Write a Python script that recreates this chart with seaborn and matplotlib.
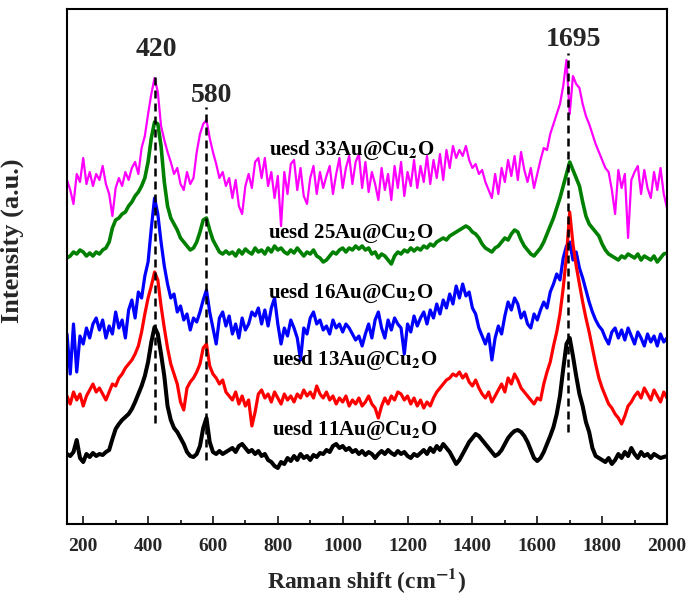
import numpy as np
import pandas as pd
import matplotlib
matplotlib.use("Agg")
import matplotlib.pyplot as plt
import seaborn as sns

# Raman shift grid (cm^-1), 150..2000 every 10
raman_shift = list(range(150, 2001, 10))

# Intensities (a.u.)
s11 = [70, 68, 72, 84, 66, 62, 70, 67, 71, 68,
       70, 69, 72, 74, 85, 95, 100, 104, 107, 110,
       115, 122, 130, 138, 148, 162, 182, 197, 190, 170,
       148, 118, 104, 96, 92, 86, 80, 72, 68, 67,
       70, 78, 96, 106, 82, 72, 70, 73, 70, 72,
       74, 76, 72, 78, 80, 76, 72, 74, 70, 73,
       68, 70, 64, 62, 58, 56, 62, 60, 66, 63,
       68, 64, 70, 66, 68, 64, 69, 67, 71, 70,
       74, 72, 78, 80, 76, 78, 74, 76, 72, 74,
       70, 73, 69, 72, 70, 66, 70, 73, 70, 74,
       71, 69, 73, 70, 72, 68, 66, 70, 68, 71,
       74, 70, 76, 72, 78, 74, 80, 76, 72, 66,
       60, 64, 70, 76, 82, 86, 90, 88, 84, 80,
       76, 72, 68, 70, 74, 80, 86, 90, 93, 94,
       92, 88, 82, 74, 66, 63, 66, 72, 80, 88,
       97, 110, 128, 155, 180, 186, 168, 148, 130, 118,
       102, 92, 76, 68, 66, 64, 62, 66, 60, 64,
       70, 66, 72, 68, 76, 70, 66, 72, 68, 70,
       66, 70, 68, 66, 67, 68]

s13 = [128, 120, 132, 124, 130, 118, 128, 134, 140, 132,
       136, 130, 124, 132, 140, 138, 146, 150, 156, 160,
       164, 170, 178, 192, 210, 226, 238, 252, 244, 218,
       196, 176, 160, 150, 140, 122, 114, 136, 142, 146,
       152, 160, 176, 180, 158, 150, 146, 140, 144, 132,
       128, 124, 132, 120, 128, 118, 124, 98, 112, 130,
       134, 126, 130, 122, 132, 126, 120, 130, 124, 128,
       122, 130, 126, 134, 128, 132, 126, 138, 130, 126,
       132, 124, 128, 120, 126, 122, 128, 118, 124, 120,
       126, 118, 122, 128, 120, 116, 106, 118, 126, 120,
       128, 124, 132, 130, 124, 128, 120, 126, 118, 124,
       116, 122, 118, 126, 132, 136, 140, 144, 146, 150,
       148, 152, 146, 150, 142, 138, 144, 136, 130, 126,
       132, 122, 128, 134, 140, 132, 146, 140, 150, 144,
       136, 132, 128, 124, 120, 126, 124, 140, 152, 162,
       178, 192, 210, 236, 268, 312, 280, 258, 240, 222,
       206, 192, 176, 160, 146, 136, 128, 120, 116, 110,
       106, 100, 108, 118, 122, 128, 132, 126, 136, 130,
       124, 134, 128, 122, 132, 126]

s16 = [190, 150, 200, 152, 188, 180, 196, 186, 200, 206,
       194, 204, 186, 198, 190, 212, 196, 204, 186, 214,
       224, 206, 232, 226, 248, 262, 296, 326, 310, 282,
       258, 240, 226, 230, 212, 218, 204, 210, 194, 206,
       202, 212, 224, 234, 212, 196, 180, 206, 212, 198,
       208, 190, 200, 186, 206, 194, 200, 212, 208, 216,
       200, 214, 198, 216, 226, 200, 180, 196, 188, 204,
       196, 186, 164, 196, 190, 206, 212, 200, 204, 194,
       198, 190, 204, 196, 200, 192, 200, 196, 190, 184,
       188, 178, 190, 200, 186, 204, 212, 196, 186, 204,
       194, 206, 200, 196, 170, 200, 192, 208, 198, 206,
       212, 200, 214, 206, 220, 210, 224, 216, 230, 220,
       238, 226, 240, 228, 232, 216, 210, 196, 188, 180,
       190, 164, 186, 198, 190, 208, 222, 214, 226, 220,
       206, 212, 200, 196, 210, 204, 214, 222, 216, 232,
       240, 250, 244, 266, 278, 282, 264, 272, 256, 246,
       234, 222, 212, 204, 198, 194, 186, 180, 192, 196,
       186, 194, 184, 196, 188, 180, 192, 186, 178, 190,
       182, 188, 178, 190, 182, 186]

s25 = [266, 268, 272, 270, 274, 272, 268, 271, 268, 272,
       270, 274, 276, 282, 296, 304, 306, 310, 312, 318,
       322, 328, 332, 338, 346, 362, 386, 402, 400, 378,
       342, 318, 306, 300, 294, 286, 282, 278, 274, 276,
       282, 292, 304, 306, 294, 284, 278, 272, 270, 273,
       270, 272, 268, 274, 270, 275, 272, 270, 276, 272,
       274, 270, 276, 272, 278, 274, 276, 272, 270, 274,
       271, 276, 272, 268, 272, 270, 274, 268, 266, 262,
       264, 268, 272, 270, 274, 276, 272, 276, 274, 278,
       275, 278, 274, 276, 270, 272, 266, 270, 268, 264,
       260, 268, 272, 270, 274, 272, 276, 273, 276, 274,
       278, 276, 280, 278, 282, 284, 286, 284, 288, 290,
       292, 294, 296, 298, 296, 292, 290, 286, 280, 276,
       274, 272, 276, 278, 282, 286, 284, 290, 294, 292,
       284, 278, 274, 270, 268, 272, 276, 282, 290, 298,
       306, 316, 326, 338, 350, 362, 354, 346, 338, 322,
       308, 300, 296, 292, 288, 280, 274, 270, 268, 266,
       264, 268, 266, 270, 268, 266, 270, 264, 268, 266,
       264, 268, 262, 266, 270, 271]

s33 = [344, 334, 320, 350, 342, 366, 340, 352, 338, 350,
       344, 358, 340, 330, 308, 336, 346, 338, 352, 344,
       356, 362, 350, 376, 388, 410, 430, 446, 432, 398,
       384, 372, 362, 350, 356, 340, 334, 352, 340, 346,
       372, 390, 400, 404, 386, 372, 360, 346, 352, 338,
       346, 326, 344, 318, 310, 338, 350, 336, 362, 366,
       346, 366, 338, 352, 326, 348, 298, 352, 330, 360,
       364, 334, 356, 328, 320, 346, 358, 330, 352, 336,
       348, 358, 330, 350, 366, 336, 356, 368, 340, 362,
       370, 336, 362, 332, 352, 340, 324, 356, 334, 350,
       324, 358, 336, 362, 328, 352, 338, 364, 336, 358,
       342, 368, 340, 364, 346, 370, 344, 374, 356, 378,
       366, 374, 368, 378, 364, 356, 360, 350, 354, 342,
       334, 326, 350, 330, 356, 342, 364, 348, 368, 344,
       372, 354, 342, 356, 336, 350, 364, 376, 374, 390,
       400, 410, 420, 438, 464, 410, 448, 440, 436, 420,
       408, 400, 390, 380, 372, 364, 356, 352, 334, 310,
       354, 336, 350, 286, 344, 352, 358, 330, 354, 336,
       326, 352, 334, 356, 330, 316]

sample_names = ["uesd 33Au@Cu$_\\mathbf{2}$O", "uesd 25Au@Cu$_\\mathbf{2}$O",
                "uesd 16Au@Cu$_\\mathbf{2}$O", "uesd 13Au@Cu$_\\mathbf{2}$O",
                "uesd 11Au@Cu$_\\mathbf{2}$O"]
series = [s33, s25, s16, s13, s11]
colors = ["#FF00FF", "#008000", "#0000FF", "#FF0000", "#000000"]
widths = [1.6, 2.6, 2.3, 2.3, 2.9]
label_x = [1027, 1024, 1024, 1036, 1036]
label_y = [374, 291, 231, 164, 94]

peak_pos = [420, 580, 1695]
peak_text = ["420", "580", "1695"]
peak_text_x = [426, 595, 1713]
peak_text_y = [475, 428, 484]
dash_lo = [101, 64, 92]
dash_hi = [451, 417, 471]

sns.set_theme(style="white")
plt.rcParams["font.family"] = ["Liberation Serif", "DejaVu Serif"]
plt.rcParams["font.weight"] = "bold"
plt.rcParams["mathtext.fontset"] = "stix"

fig = plt.figure(figsize=(6.9, 6.04), dpi=100)
ax = fig.add_axes([67 / 690, 80 / 604, 600 / 690, 515 / 604])

for name, vals, c, lw in zip(sample_names, series, colors, widths):
    df = pd.DataFrame({"shift": raman_shift, "intensity": vals})
    sns.lineplot(data=df, x="shift", y="intensity", color=c, linewidth=lw,
                 ax=ax, sort=False, estimator=None)

for name, tx, ty in zip(sample_names, label_x, label_y):
    ax.text(tx, ty, name, ha="center", va="center", fontsize=15,
            fontweight="bold", color="black")

for p, t, tx, ty, lo, hi in zip(peak_pos, peak_text, peak_text_x, peak_text_y,
                                dash_lo, dash_hi):
    ax.vlines(p, lo, hi, colors="black", linewidth=1.8, linestyles=(0, (3.2, 2.0)))
    ax.text(tx, ty, t, ha="center", va="center", fontsize=20, fontweight="bold")

ax.set_xlim(150, 2000)
ax.set_ylim(0, 515)
ax.set_xticks(range(200, 2001, 200))
ax.set_xticks(range(300, 2000, 200), minor=True)
ax.set_yticks([])
ax.tick_params(axis="x", which="major", direction="in", length=6, width=1.3,
               labelsize=14, pad=10, bottom=True, top=False)
ax.tick_params(axis="x", which="minor", direction="in", length=3, width=1.3,
               bottom=True, top=False)
for lab in ax.get_xticklabels():
    lab.set_fontweight("bold")
for sp in ax.spines.values():
    sp.set_visible(True)
    sp.set_linewidth(1.5)
    sp.set_color("black")

ax.set_xlabel("Raman shift (cm$^{\\mathbf{-1}}$)", fontsize=17, fontweight="bold",
              labelpad=8)
ax.set_ylabel("Intensity (a.u.)", fontsize=19, fontweight="bold")
ax.yaxis.set_label_coords(-0.072, 0.55)

fig.savefig("out.png", dpi=100)
